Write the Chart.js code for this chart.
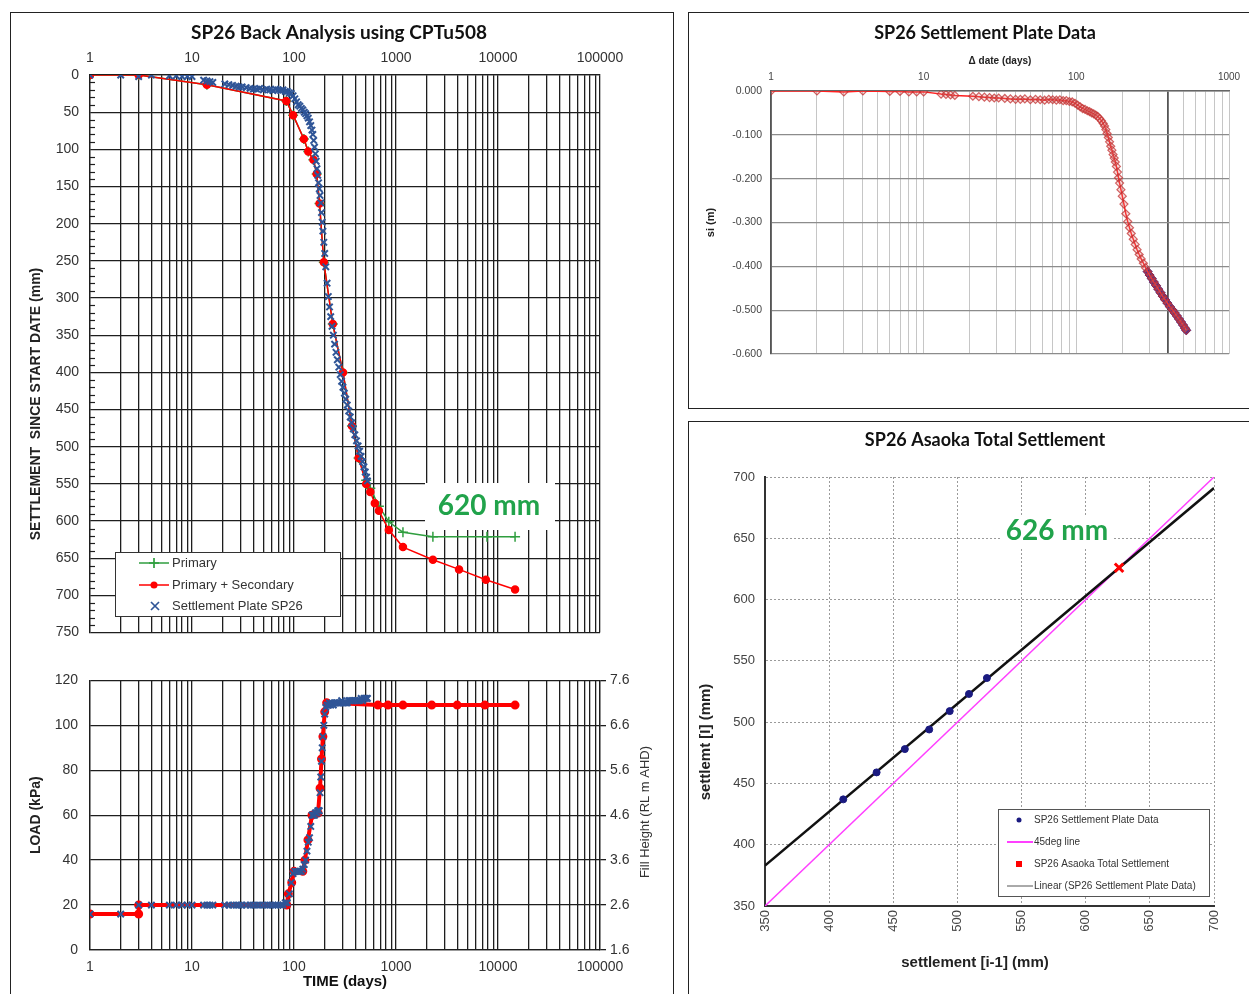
<!DOCTYPE html>
<html>
<head>
<meta charset="utf-8">
<script src="https://cdn.jsdelivr.net/npm/chart.js@4.4.1/dist/chart.umd.min.js"></script>
<style>
  html, body { margin: 0; padding: 0; background: #fff; }
  body { width: 1249px; height: 994px; position: relative; overflow: hidden; }
  .panel { position: absolute; border: 1px solid #222; box-sizing: border-box; }
  canvas { position: absolute; }
</style>
</head>
<body>
<div class="panel" style="left:10px;top:12px;width:664px;height:1000px"></div>
<div class="panel" style="left:688px;top:12px;width:600px;height:397px"></div>
<div class="panel" style="left:688px;top:421px;width:600px;height:600px"></div>
<canvas id="settle" width="663" height="640" style="left:10px;top:12px"></canvas>
<canvas id="load" width="663" height="334" style="left:10px;top:660px"></canvas>
<canvas id="plate" width="561" height="396" style="left:688px;top:12px"></canvas>
<canvas id="asaoka" width="561" height="573" style="left:688px;top:421px"></canvas>
<script>
// settlement plate SP26 readings (days, settlement mm, applied load kPa)
const plateDays = [
  1, 2, 3, 4, 6, 7, 8, 9, 10, 13,
  14, 15, 16, 21, 23, 25, 27, 29, 31, 34,
  37, 40, 43, 46, 50, 54, 58, 62, 66, 70,
  74, 78, 82, 86, 90, 94, 98, 102, 106, 110,
  114, 118, 122, 126, 130, 134, 138, 142, 146, 150,
  153, 156, 159, 162, 165, 168, 171, 174, 177, 180,
  183, 186, 189, 192, 196, 200, 205, 211, 217, 223,
  229, 236, 243, 250, 258, 266, 275, 284, 293, 302,
  312, 322, 333, 344, 356, 368, 381, 395, 410, 425,
  440, 455, 470, 485, 500, 515, 525
];
const plateSettle = [
  0, 0, 2, 0, 1, 1, 2, 2, 2, 7,
  8, 9, 10, 12, 13, 14, 15, 16, 16, 17,
  18, 19, 19, 18, 20, 19, 20, 21, 19, 20,
  21, 20, 22, 22, 24, 25, 28, 32, 36, 40,
  42, 45, 47, 50, 52, 55, 58, 63, 68, 74,
  80, 88, 97, 106, 116, 126, 135, 145, 153, 162,
  172, 185, 198, 210, 225, 240, 258, 280, 298, 312,
  325, 338, 350, 362, 373, 383, 393, 403, 412, 420,
  428, 436, 444, 452, 460, 468, 476, 484, 492, 499,
  506, 513, 520, 527, 534, 541, 546
];
const plateLoad = [
  16, 16, 20, 20, 20, 20, 20, 20, 20, 20,
  20, 20, 20, 20, 20, 20, 20, 20, 20, 20,
  20, 20, 20, 20, 20, 20, 20, 20, 20, 20,
  20, 20, 21, 21, 25, 30, 34, 35, 35, 35,
  35, 35, 36, 38, 40, 44, 48, 50, 55, 60,
  60, 60, 60, 61, 61, 61, 62, 62, 62, 70,
  77, 84, 90, 95, 100, 105, 108, 109, 109, 110,
  109, 110, 109, 110, 110, 110, 110, 110, 111, 110,
  110, 110, 110, 111, 111, 111, 111, 111, 111, 111,
  111, 112, 111, 112, 112, 112, 112
];
const recentFromDay = 293; // readings highlighted blue on the plate chart

// back analysis (CPTu508)
const modelDays = [1, 3, 14, 84, 98, 125, 138, 155, 167, 178, 196, 240, 302, 370, 430, 510, 560, 620, 680, 850, 1170, 2300, 4150, 7600, 14700];
const modelSettle = [0, 0, 13, 35, 54, 86, 103, 114, 133, 173, 252, 335, 400, 472, 515, 550, 561, 576, 586, 612, 635, 652, 665, 679, 692];
const primaryDays = [1, 3, 14, 84, 98, 125, 138, 155, 167, 178, 196, 240, 302, 370, 430, 510, 560, 680, 850, 1170, 2300, 7800, 14700];
const primarySettle = [0, 0, 13, 35, 54, 86, 103, 114, 133, 173, 252, 335, 400, 472, 515, 545, 556, 580, 601, 615, 621, 621, 621];

// load history
const loadDays = [1, 3, 3, 85, 88, 95, 100, 122, 128, 137, 150, 172, 180, 186, 192, 200, 209, 665, 835, 1170, 2240, 3980, 7440, 14700];
const loadKpa = [16, 16, 20, 20, 25, 30, 35, 35, 40, 49, 60, 61, 72, 85, 95, 106, 110, 109, 109, 109, 109, 109, 109, 109];

// Asaoka
const asaokaSeries = [411, 437, 459, 478, 494, 509, 523, 536];
const asaokaFinal = 626;
const line45 = [350, 700];
const fitX = [350, 700];
const fitY = [383, 691];

const timeLabels = [1, 10, 100, 1000, 10000, 100000];
const plateTimeLabels = [1, 10, 100, 1000];

const BLUE = '#2f5597', RED = '#ff0000', GREEN = '#2f9e3f', GRID = '#1e1e1e', NOTE = '#21a34b';

Chart.defaults.font.family = "'Liberation Sans', Arial, sans-serif";
Chart.defaults.color = '#333';
Chart.defaults.animation = false;
Chart.defaults.plugins.legend.display = false;
Chart.defaults.plugins.tooltip.enabled = false;

const pts = (xs, ys) => xs.map((x, i) => ({ x: x, y: ys[i] }));

function logTicks(lo, hi) {
  const t = [];
  for (let p = lo; p < hi; p *= 10) {
    for (let m = 1; m < 10; m++) t.push({ value: m * p });
  }
  t.push({ value: hi });
  return t;
}

function mark(c, kind, x, y, r, color) {
  c.strokeStyle = color;
  c.fillStyle = color;
  c.lineWidth = 1.7;
  c.beginPath();
  if (kind === 'dot') { c.arc(x, y, r, 0, Math.PI * 2); c.fill(); }
  else if (kind === 'square') { c.fillRect(x - r, y - r, 2 * r, 2 * r); }
  else if (kind === 'plus') { c.moveTo(x - r, y); c.lineTo(x + r, y); c.moveTo(x, y - r); c.lineTo(x, y + r); c.stroke(); }
  else if (kind === 'x') { c.moveTo(x - r, y - r); c.lineTo(x + r, y + r); c.moveTo(x + r, y - r); c.lineTo(x - r, y + r); c.stroke(); }
}

// titles, legends, notes and minor ticks
const extras = {
  id: 'extras',
  afterDraw(chart, args, o) {
    const c = chart.ctx;
    const area = chart.chartArea;
    c.save();
    if (o.minor) {
      const s = chart.scales[o.minor.axis];
      c.strokeStyle = GRID;
      c.lineWidth = 1.2;
      for (let v = s.min; v <= s.max; v += o.minor.step) {
        if (v % o.minor.skip === 0) continue;
        const y = Math.round(s.getPixelForValue(v)) + 0.5;
        c.beginPath(); c.moveTo(area.left, y); c.lineTo(area.left + o.minor.len, y); c.stroke();
      }
    }
    (o.boxes || []).forEach(b => {
      c.fillStyle = '#fff';
      c.fillRect(b.x, b.y, b.w, b.h);
      if (b.border) { c.strokeStyle = b.border; c.lineWidth = 1; c.strokeRect(b.x + 0.5, b.y + 0.5, b.w, b.h); }
    });
    (o.items || []).forEach(it => {
      if (it.line) {
        c.strokeStyle = it.lineColor; c.lineWidth = it.lineWidth || 1.5;
        c.beginPath(); c.moveTo(it.line[0], it.y); c.lineTo(it.line[1], it.y); c.stroke();
      }
      if (it.mark) mark(c, it.mark, it.mx, it.y, it.r, it.markColor);
      c.font = o.itemFont; c.fillStyle = o.itemColor || '#333';
      c.textAlign = 'left'; c.textBaseline = 'middle';
      c.fillText(it.text, it.tx, it.y);
    });
    (o.texts || []).forEach(t => {
      c.save();
      c.translate(t.x, t.y);
      if (t.rot) c.rotate(t.rot);
      c.font = t.font; c.fillStyle = t.color || '#111';
      c.textAlign = 'center'; c.textBaseline = 'middle';
      c.fillText(t.text, 0, 0);
      c.restore();
    });
    c.restore();
  }
};
Chart.register(extras);

const darkGrid = { color: GRID, lineWidth: 1.3, drawTicks: false };
const darkBorder = { color: GRID, width: 1.3 };

// ---- settlement vs time
new Chart(document.getElementById('settle'), {
  type: 'scatter',
  data: {
    datasets: [
      { label: 'Settlement Plate SP26', data: pts(plateDays, plateSettle), showLine: false,
        pointStyle: 'crossRot', pointRadius: 4.5, pointBorderWidth: 2, borderColor: BLUE, backgroundColor: BLUE },
      { label: 'Primary + Secondary', data: pts(modelDays, modelSettle), showLine: true,
        borderColor: RED, backgroundColor: RED, borderWidth: 1.5, pointRadius: 3.5 },
      { label: 'Primary', data: pts(primaryDays, primarySettle), showLine: true,
        borderColor: GREEN, backgroundColor: GREEN, borderWidth: 1.5, pointStyle: 'cross', pointRadius: 5, pointBorderWidth: 1.5 }
    ]
  },
  options: {
    responsive: false,
    events: [],
    layout: { padding: { left: 20, right: 73, top: 0, bottom: 18 } },
    scales: {
      x: {
        type: 'logarithmic', position: 'top', min: 1, max: 100000,
        afterBuildTicks: s => { s.ticks = logTicks(1, 100000); },
        afterFit: s => { s.height = 63; },
        ticks: { autoSkip: false, maxRotation: 0, padding: 8, font: { size: 14 },
          callback: v => timeLabels.includes(v) ? String(v) : '' },
        grid: darkGrid, border: darkBorder
      },
      y: {
        reverse: true, min: 0, max: 750,
        afterFit: s => { s.width = 60; },
        ticks: { stepSize: 50, padding: 11, font: { size: 14 } },
        grid: darkGrid, border: darkBorder
      }
    },
    plugins: {
      extras: {
        minor: { axis: 'y', step: 10, skip: 50, len: 5 },
        boxes: [ { x: 105, y: 540, w: 225, h: 64, border: '#333' }, { x: 415, y: 471, w: 130, h: 47 } ],
        itemFont: "13px 'Liberation Sans', Arial, sans-serif",
        items: [
          { text: 'Primary', y: 551, line: [129, 159], lineColor: GREEN, mark: 'plus', mx: 144, r: 5, markColor: GREEN, tx: 162 },
          { text: 'Primary + Secondary', y: 573, line: [129, 159], lineColor: RED, mark: 'dot', mx: 144, r: 3.5, markColor: RED, tx: 162 },
          { text: 'Settlement Plate SP26', y: 594, mark: 'x', mx: 145, r: 4, markColor: BLUE, tx: 162 }
        ],
        texts: [
          { text: 'SP26 Back Analysis using CPTu508', x: 329, y: 21, font: "bold 19px Lato, sans-serif" },
          { text: 'SETTLEMENT  SINCE START DATE (mm)', x: 26, y: 392, rot: -Math.PI / 2, font: "bold 14px 'Liberation Sans', Arial", color: '#222' },
          { text: '620 mm', x: 479, y: 494, font: "bold 28px Lato, sans-serif", color: NOTE }
        ]
      }
    }
  }
});

// ---- load vs time
new Chart(document.getElementById('load'), {
  type: 'scatter',
  data: {
    datasets: [
      { label: 'Settlement Plate SP26', data: pts(plateDays, plateLoad), showLine: false,
        pointStyle: 'crossRot', pointRadius: 4.5, pointBorderWidth: 2, borderColor: BLUE, backgroundColor: BLUE },
      { label: 'Load', data: pts(loadDays, loadKpa), showLine: true,
        borderColor: RED, backgroundColor: RED, borderWidth: 4, pointRadius: 2.5 }
    ]
  },
  options: {
    responsive: false,
    events: [],
    layout: { padding: { left: 18, right: 0, top: 19, bottom: 0 } },
    scales: {
      x: {
        type: 'logarithmic', min: 1, max: 100000,
        afterBuildTicks: s => { s.ticks = logTicks(1, 100000); },
        afterFit: s => { s.height = 44; },
        ticks: { autoSkip: false, maxRotation: 0, padding: 9, font: { size: 14 },
          callback: v => timeLabels.includes(v) ? String(v) : '' },
        grid: darkGrid, border: darkBorder,
        title: { display: true, text: 'TIME (days)', color: '#111', font: { size: 15, weight: 'bold' }, padding: { top: 0, bottom: 3 } }
      },
      y: {
        min: 0, max: 120,
        afterFit: s => { s.width = 62; },
        ticks: { stepSize: 20, padding: 12, font: { size: 14 } },
        grid: darkGrid, border: darkBorder,
        title: { display: true, text: 'LOAD (kPa)', color: '#222', font: { size: 14, weight: 'bold' }, padding: 0 }
      },
      y2: {
        position: 'right', min: 1.6, max: 7.6,
        afterFit: s => { s.width = 73; },
        ticks: { stepSize: 1, padding: 4, font: { size: 14 }, callback: v => v.toFixed(1) },
        grid: { drawOnChartArea: false, drawTicks: true, tickLength: 6, tickColor: GRID, lineWidth: 1.3 },
        border: darkBorder
      }
    },
    plugins: {
      extras: {
        texts: [
          { text: 'Fill Height (RL m AHD)', x: 635, y: 152, rot: -Math.PI / 2, font: "13px 'Liberation Sans', Arial", color: '#333' }
        ]
      }
    }
  }
});

// ---- settlement plate data
const plateAll = plateDays.map((d, i) => ({ x: d, y: -plateSettle[i] / 1000 }));
new Chart(document.getElementById('plate'), {
  type: 'scatter',
  data: {
    datasets: [
      { label: 'SP26', data: plateAll, showLine: true, borderColor: '#ff2020', borderWidth: 1.5,
        pointStyle: 'rectRot', pointRadius: 4, pointBorderWidth: 1.2,
        pointBorderColor: 'rgba(195,50,50,0.75)', pointBackgroundColor: 'rgba(220,120,120,0.25)' },
      { label: 'SP26 recent', data: plateAll.filter(p => p.x >= recentFromDay), showLine: false,
        pointStyle: 'rectRot', pointRadius: 4.5, borderColor: '#1f1f99', backgroundColor: '#1f1f99' }
    ]
  },
  options: {
    responsive: false,
    events: [],
    layout: { padding: { left: 16, right: 20, top: 0, bottom: 54 } },
    scales: {
      x: {
        type: 'logarithmic', position: 'top', min: 1, max: 1000,
        afterBuildTicks: s => { s.ticks = logTicks(1, 1000); },
        afterFit: s => { s.height = 79; },
        ticks: { autoSkip: false, maxRotation: 0, padding: 8, font: { size: 10 }, color: '#444',
          callback: v => plateTimeLabels.includes(v) ? String(v) : '' },
        grid: { color: c => c.tick && c.tick.value === 400 ? '#555' : '#c6c6c6',
          lineWidth: c => c.tick && c.tick.value === 400 ? 1.8 : 1, drawTicks: false },
        border: { color: '#666', width: 1.5 },
        title: { display: true, text: 'Δ date (days)', color: '#222', font: { size: 10, weight: 'bold' }, padding: { top: 43, bottom: 0 } }
      },
      y: {
        min: -0.6, max: 0,
        afterFit: s => { s.width = 67; },
        ticks: { stepSize: 0.1, padding: 9, font: { size: 10.5 }, color: '#444', callback: v => v.toFixed(3) },
        grid: { color: '#8c8c8c', lineWidth: 1.3, drawTicks: false },
        border: { color: '#555', width: 1.8 },
        title: { display: true, text: 'si (m)', color: '#222', font: { size: 11, weight: 'bold' }, padding: 0 }
      }
    },
    plugins: {
      extras: {
        texts: [ { text: 'SP26 Settlement Plate Data', x: 297, y: 21, font: "bold 18px Lato, sans-serif" } ]
      }
    }
  }
});

// ---- Asaoka
const asaokaPts = asaokaSeries.slice(1).map((s, i) => ({ x: asaokaSeries[i], y: s }));
new Chart(document.getElementById('asaoka'), {
  type: 'scatter',
  data: {
    datasets: [
      { label: 'SP26 Asaoka Total Settlement', data: [{ x: asaokaFinal, y: asaokaFinal }],
        pointStyle: 'crossRot', pointRadius: 6, pointBorderWidth: 3, borderColor: RED, backgroundColor: RED },
      { label: 'SP26 Settlement Plate Data', data: asaokaPts, pointRadius: 3.5,
        borderColor: '#1a1a80', backgroundColor: '#1a1a80' },
      { label: 'Linear (SP26 Settlement Plate Data)', data: pts(fitX, fitY), showLine: true,
        pointRadius: 0, borderColor: '#111', borderWidth: 2.5 },
      { label: '45deg line', data: pts(line45, line45), showLine: true,
        pointRadius: 0, borderColor: '#ff40ff', borderWidth: 1.5 }
    ]
  },
  options: {
    responsive: false,
    events: [],
    layout: { padding: { left: 10, right: 35, top: 56, bottom: 0 } },
    scales: {
      x: {
        min: 350, max: 700,
        afterFit: s => { s.height = 88; },
        ticks: { stepSize: 50, minRotation: 90, maxRotation: 90, padding: 4, font: { size: 13 }, color: '#444' },
        grid: { color: '#9a9a9a', lineWidth: 1, drawTicks: false },
        border: { color: '#333', width: 2, dash: [2, 2] }
      },
      y: {
        min: 350, max: 700,
        afterFit: s => { s.width = 67; },
        ticks: { stepSize: 50, padding: 10, font: { size: 13 }, color: '#444' },
        grid: { color: '#9a9a9a', lineWidth: 1, drawTicks: false },
        border: { color: '#333', width: 2, dash: [2, 2] }
      }
    },
    plugins: {
      extras: {
        boxes: [ { x: 310, y: 388, w: 211, h: 87, border: '#555' }, { x: 313, y: 95, w: 112, h: 32 } ],
        itemFont: "10px 'Liberation Sans', Arial, sans-serif",
        items: [
          { text: 'SP26 Settlement Plate Data', y: 399, mark: 'dot', mx: 331, r: 2.5, markColor: '#1a1a80', tx: 346 },
          { text: '45deg line', y: 421, line: [319, 345], lineColor: '#ff40ff', lineWidth: 2, tx: 346 },
          { text: 'SP26 Asaoka Total Settlement', y: 443, mark: 'square', mx: 331, r: 3, markColor: RED, tx: 346 },
          { text: 'Linear (SP26 Settlement Plate Data)', y: 465, line: [319, 345], lineColor: '#555', lineWidth: 1, tx: 346 }
        ],
        texts: [
          { text: 'SP26 Asaoka Total Settlement', x: 297, y: 19, font: "bold 18px Lato, sans-serif" },
          { text: '626 mm', x: 369, y: 110, font: "bold 28px Lato, sans-serif", color: NOTE },
          { text: 'settlemt [I] (mm)', x: 18, y: 321, rot: -Math.PI / 2, font: "bold 15px 'Liberation Sans', Arial", color: '#222' },
          { text: 'settlement [i-1] (mm)', x: 287, y: 542, font: "bold 15px 'Liberation Sans', Arial", color: '#222' }
        ]
      }
    }
  }
});
</script>
</body>
</html>
